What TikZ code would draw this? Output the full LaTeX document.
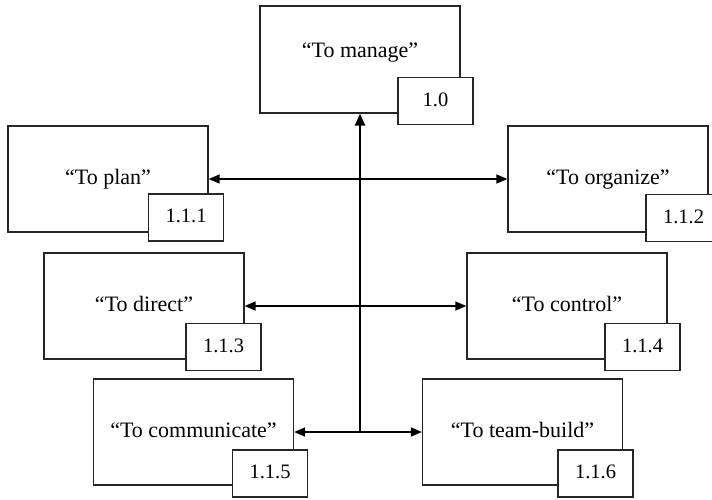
\documentclass[tikz,border=0pt]{standalone}
\usepackage{fontspec}
\setmainfont{Liberation Serif}
\usetikzlibrary{arrows.meta}

\tikzset{
  mainbox/.style={draw=black!85, line width=1.3pt, fill=white,
    minimum width=200pt, minimum height=106pt, inner sep=0pt,
    text height=15pt, text depth=5pt,
    font=\fontsize{22}{26}\selectfont},
  numbox/.style={draw=black!85, line width=1.3pt, fill=white,
    minimum width=75pt, minimum height=47pt, inner sep=0pt,
    text height=15pt, text depth=5pt,
    font=\fontsize{20.5}{24}\selectfont},
  link/.style={line width=1.6pt, {Triangle[length=11pt,width=9pt]}-{Triangle[length=11pt,width=9pt]}},
  trunk/.style={line width=2.2pt, -{Triangle[length=12pt,width=10pt]}}
}

\begin{document}
\begin{tikzpicture}[x=1pt, y=-1pt]
  \clip (0,0) rectangle (712,499);
  \fill[white] (0,0) rectangle (712,499);

  % activity boxes
  \node[mainbox, minimum height=107pt] (manage) at (360,59.5)
    {\raisebox{7pt}[0pt][0pt]{“To manage”}};
  \node[mainbox] (plan)        at (108,179)   {“To plan”};
  \node[mainbox] (organize)    at (608,179)   {“To organize”};
  \node[mainbox] (direct)      at (144,306)   {“To direct”};
  \node[mainbox] (control)     at (567,306)   {“To control”};
  \node[mainbox] (communicate) at (193.5,432) {“To communicate”};
  \node[mainbox] (teambuild)   at (522.5,432) {“To team-build”};

  % reference numbers
  \node[numbox] (n10)  at (435.5,101)   {1.0};
  \node[numbox] (n111) at (186,217.5)   {1.1.1};
  \node[numbox] (n112) at (683.5,218)   {1.1.2};
  \node[numbox] (n113) at (223.5,347)   {1.1.3};
  \node[numbox] (n114) at (642.5,347)   {1.1.4};
  \node[numbox] (n115) at (270,473.5)   {1.1.5};
  \node[numbox] (n116) at (595.5,473.5) {1.1.6};

  % connectors
  \coordinate (hub) at (360,432);
  \draw[trunk] (hub) -- (manage.south);
  \draw[link] (plan.east) -- (organize.west);
  \draw[link] (direct.east) -- (control.west);
  \draw[link] (communicate.east) -- (teambuild.west);
\end{tikzpicture}
\end{document}
